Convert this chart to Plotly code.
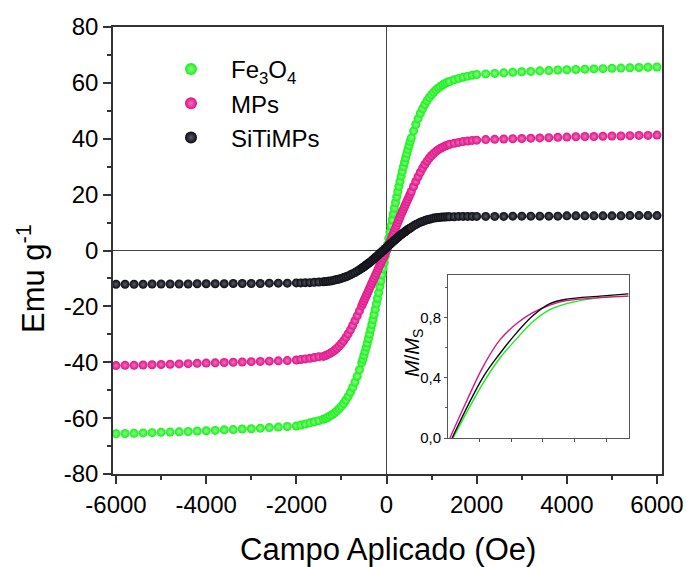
import plotly.graph_objects as go

# ---- field sweep (Oe) ----
FIELD_OUTER_NEG = list(range(-6000, -2199, 200))
FIELD_CORE_NEG = (list(range(-2000, -1499, 100)) + list(range(-1400, -549, 50))
                  + list(range(-525, 0, 25)))
FIELD_ZERO = [0]
FIELD_CORE_POS = (list(range(25, 526, 25)) + list(range(550, 1401, 50))
                  + list(range(1500, 2001, 100)))
FIELD_OUTER_POS = list(range(2200, 6001, 200))

# ---- magnetisation (emu/g) ----
FE3O4_OUTER_NEG = [-65.6, -65.5, -65.4, -65.3, -65.2, -65.1, -65.0, -64.9, -64.8, -64.6,
                   -64.5, -64.4, -64.2, -64.1, -63.9, -63.8, -63.6, -63.4, -63.2, -63.0]
FE3O4_CORE_NEG = [-62.8, -62.5, -62.1, -61.7, -61.3, -60.9,
                  -60.4, -60.1, -59.7, -59.2, -58.7, -58.1, -57.4, -56.6, -55.7, -54.7,
                  -53.5, -52.2, -50.7, -49.0, -47.1, -45.0, -42.7, -40.2,
                  -38.9, -37.5, -36.1, -34.6, -33.1, -31.5, -29.9, -28.2, -26.5, -24.7,
                  -22.9, -21.0, -19.1, -17.1, -15.1, -13.0, -10.9, -8.7, -6.5, -4.3, -2.1]
FE3O4_ZERO = [0.0]
FE3O4_CORE_POS = [2.2, 4.4, 6.6, 8.8, 11.0, 13.1, 15.2, 17.2, 19.2, 21.1, 23.0, 24.8,
                  26.6, 28.3, 30.0, 31.6, 33.2, 34.7, 36.2, 37.6, 39.0,
                  40.3, 42.8, 45.1, 47.2, 49.1, 50.8, 52.3, 53.6, 54.8, 55.8, 56.7,
                  57.5, 58.2, 58.8, 59.3, 59.8, 60.2, 60.5,
                  61.1, 61.6, 62.0, 62.4, 62.7, 63.0]
FE3O4_OUTER_POS = [63.2, 63.4, 63.6, 63.8, 64.0, 64.1, 64.3, 64.4, 64.6, 64.7,
                   64.8, 64.9, 65.0, 65.1, 65.2, 65.3, 65.4, 65.5, 65.6, 65.7]

MPS_OUTER_NEG = [-41.2, -41.1, -41.1, -41.0, -40.9, -40.8, -40.7, -40.6, -40.5, -40.4,
                 -40.3, -40.2, -40.1, -40.0, -39.9, -39.8, -39.7, -39.6, -39.5, -39.4]
MPS_CORE_NEG = [-39.2, -39.0, -38.8, -38.6, -38.3, -38.0,
                -37.9, -37.6, -37.2, -36.8, -36.3, -35.7, -35.0, -34.2, -33.3, -32.3,
                -31.1, -29.8, -28.4, -26.8, -25.1, -23.4, -21.6, -19.8,
                -18.9, -18.0, -17.1, -16.2, -15.3, -14.4, -13.5, -12.6, -11.7, -10.8,
                -9.9, -9.0, -8.1, -7.2, -6.3, -5.4, -4.5, -3.6, -2.7, -1.8, -0.9]
MPS_ZERO = [0.1]
MPS_CORE_POS = [1.0, 2.0, 3.0, 4.0, 5.0, 6.0, 7.0, 8.0, 9.0, 10.0, 11.0, 12.0,
                13.0, 13.9, 14.8, 15.7, 16.6, 17.5, 18.4, 19.3, 20.2,
                21.1, 22.9, 24.7, 26.4, 28.0, 29.5, 30.8, 32.0, 33.1, 34.0, 34.8,
                35.5, 36.1, 36.6, 37.0, 37.4, 37.7, 38.0,
                38.4, 38.7, 39.0, 39.2, 39.4, 39.5]
MPS_OUTER_POS = [39.7, 39.8, 39.9, 40.0, 40.1, 40.2, 40.3, 40.4, 40.5, 40.6,
                 40.7, 40.8, 40.8, 40.9, 41.0, 41.0, 41.1, 41.2, 41.2, 41.3]

SITIMPS_OUTER_NEG = [-12.1, -12.1, -12.1, -12.1, -12.0, -12.0, -12.0, -12.0, -12.0, -11.9,
                     -11.9, -11.9, -11.9, -11.8, -11.8, -11.8, -11.8, -11.7, -11.7, -11.7]
SITIMPS_CORE_NEG = [-11.6, -11.6, -11.5, -11.5, -11.4, -11.3,
                    -11.2, -11.1, -11.0, -10.9, -10.8, -10.6, -10.4, -10.2, -10.0, -9.7,
                    -9.4, -9.1, -8.7, -8.3, -7.9, -7.4, -6.9, -6.4,
                    -6.1, -5.8, -5.5, -5.2, -4.9, -4.6, -4.3, -4.0, -3.6, -3.3,
                    -2.9, -2.6, -2.2, -1.9, -1.5, -1.1, -0.8, -0.4, -0.1, 0.3, 0.7]
SITIMPS_ZERO = [1.0]
SITIMPS_CORE_POS = [1.4, 1.8, 2.2, 2.5, 2.9, 3.3, 3.6, 4.0, 4.3, 4.7, 5.0, 5.4,
                    5.7, 6.0, 6.3, 6.6, 6.9, 7.2, 7.5, 7.8, 8.0,
                    8.3, 8.8, 9.3, 9.7, 10.1, 10.4, 10.7, 11.0, 11.2, 11.4, 11.6,
                    11.7, 11.8, 11.9, 12.0, 12.0, 12.1, 12.1,
                    12.1, 12.2, 12.2, 12.2, 12.2, 12.2]
SITIMPS_OUTER_POS = [12.2, 12.2, 12.2, 12.3, 12.3, 12.3, 12.3, 12.3, 12.3, 12.4,
                     12.4, 12.4, 12.4, 12.4, 12.4, 12.4, 12.5, 12.5, 12.5, 12.5]

# ---- inset: reduced magnetisation M/Ms ----
INSET_FE3O4_X = [0.16, 1.1, 1.64, 2.18, 2.68, 3.22, 3.75, 4.8, 5.7]
INSET_FE3O4_Y = [0.0, 0.36, 0.53, 0.66, 0.77, 0.85, 0.89, 0.93, 0.94]
INSET_MPS_X = [0.06, 0.6, 1.1, 1.64, 2.18, 2.68, 3.22, 3.75, 4.8, 5.7]
INSET_MPS_Y = [0.0, 0.25, 0.47, 0.65, 0.76, 0.83, 0.88, 0.91, 0.93, 0.94]
INSET_SITIMPS_X = [0.13, 1.1, 1.64, 2.18, 2.68, 3.22, 3.75, 4.8, 5.7]
INSET_SITIMPS_Y = [0.0, 0.40, 0.56, 0.70, 0.81, 0.89, 0.92, 0.94, 0.955]

X_TICKS = [-6000, -4000, -2000, 0, 2000, 4000, 6000]
X_LABELS = ["-6000", "-4000", "-2000", "0", "2000", "4000", "6000"]
Y_TICKS = [-80, -60, -40, -20, 0, 20, 40, 60, 80]
Y_LABELS = ["-80", "-60", "-40", "-20", "0", "20", "40", "60", "80"]
INSET_Y_TICKS = [0.0, 0.4, 0.8]
INSET_Y_LABELS = ["0,0", "0,4", "0,8"]

FIELD = FIELD_OUTER_NEG + FIELD_CORE_NEG + FIELD_ZERO + FIELD_CORE_POS + FIELD_OUTER_POS

series = [
    ("Fe<sub>3</sub>O<sub>4</sub>", "#16ee16", "#8cff8c",
     FE3O4_OUTER_NEG + FE3O4_CORE_NEG + FE3O4_ZERO + FE3O4_CORE_POS + FE3O4_OUTER_POS,
     INSET_FE3O4_X, INSET_FE3O4_Y),
    ("MPs", "#e0128a", "#f070b8",
     MPS_OUTER_NEG + MPS_CORE_NEG + MPS_ZERO + MPS_CORE_POS + MPS_OUTER_POS,
     INSET_MPS_X, INSET_MPS_Y),
    ("SiTiMPs", "#0a0a10", "#5a5a6a",
     SITIMPS_OUTER_NEG + SITIMPS_CORE_NEG + SITIMPS_ZERO + SITIMPS_CORE_POS + SITIMPS_OUTER_POS,
     INSET_SITIMPS_X, INSET_SITIMPS_Y),
]

FONT = "Liberation Sans, Arial, sans-serif"
W, H = 687, 567
L, R, T, B = 113, 25, 27, 93
PW, PH = W - L - R, H - T - B


def px_x(p):
    return (p - L) / PW


def px_y(p):
    return (H - B - p) / PH


fig = go.Figure()
for name, col, shine, mag, ix, iy in series:
    fig.add_trace(go.Scatter(
        x=FIELD, y=mag, mode="markers", name=name,
        marker=dict(size=9, color=col, line=dict(width=0),
                    gradient=dict(type="radial", color=shine)),
    ))
for name, col, shine, mag, ix, iy in series:
    fig.add_trace(go.Scatter(
        x=ix, y=iy, mode="lines", showlegend=False,
        line=dict(color=col, width=1.4, shape="spline"),
        xaxis="x2", yaxis="y2",
    ))

axis_line = "#333333"
fig.update_layout(
    width=W, height=H,
    margin=dict(l=L, r=R, t=T, b=B, autoexpand=False),
    paper_bgcolor="white", plot_bgcolor="white",
    font=dict(family=FONT, color="black"),
    showlegend=True,
    legend=dict(x=px_x(151), y=px_y(47), xanchor="left", yanchor="top",
                bgcolor="rgba(0,0,0,0)", itemwidth=70,
                font=dict(size=24, family=FONT), itemsizing="constant"),
    xaxis=dict(range=[-6067, 6111], tickvals=X_TICKS, ticktext=X_LABELS,
               ticks="outside", ticklen=8, automargin=False,
               tickwidth=1.5, tickcolor=axis_line, showline=True, linewidth=1.6,
               linecolor=axis_line, mirror=True, showgrid=False,
               zeroline=True, zerolinecolor="#444444", zerolinewidth=1,
               tickfont=dict(size=24),
               minor=dict(dtick=1000, ticks="outside", ticklen=4, tickwidth=1.5,
                          tickcolor=axis_line, showgrid=False)),
    yaxis=dict(range=[-80, 80], tickvals=Y_TICKS, ticktext=Y_LABELS,
               ticks="outside", ticklen=8, automargin=False,
               tickwidth=1.5, tickcolor=axis_line, showline=True, linewidth=1.6,
               linecolor=axis_line, mirror=True, showgrid=False,
               zeroline=True, zerolinecolor="#444444", zerolinewidth=1,
               tickfont=dict(size=24),
               minor=dict(dtick=10, ticks="outside", ticklen=4, tickwidth=1.5,
                          tickcolor=axis_line, showgrid=False)),
    xaxis2=dict(domain=[px_x(448), px_x(629)], automargin=False,
                anchor="y2", range=[0, 5.72], tickvals=[1, 2, 3, 4, 5],
                ticks="outside", ticklen=3, tickcolor="#555555",
                showticklabels=False, showline=True, linecolor="#555555",
                linewidth=1, mirror=True, showgrid=False, zeroline=False),
    yaxis2=dict(domain=[px_y(438), px_y(275)], automargin=False,
                anchor="x2", range=[0, 1.08], tickvals=INSET_Y_TICKS,
                ticktext=INSET_Y_LABELS, ticks="outside", ticklen=3,
                tickcolor="#555555", tickfont=dict(size=15),
                showline=True, linecolor="#555555", linewidth=1, mirror=True,
                showgrid=False, zeroline=False,
                minor=dict(tickvals=[0.2, 0.6, 1.0], ticks="outside", ticklen=2,
                           tickcolor="#555555")),
    annotations=[
        dict(text="Campo Aplicado (Oe)", xref="paper", yref="paper",
             x=px_x(388), y=px_y(549), xanchor="center", yanchor="middle",
             showarrow=False, font=dict(size=31)),
        dict(text="Emu g<sup>-1</sup>", xref="paper", yref="paper",
             x=px_x(31), y=px_y(279), xanchor="center", yanchor="middle",
             textangle=-90, showarrow=False, font=dict(size=31)),
        dict(text="<i>M</i>/<i>M</i><sub>S</sub>", xref="paper", yref="paper",
             x=px_x(413), y=px_y(353), xanchor="center", yanchor="middle",
             textangle=-90, showarrow=False, font=dict(size=20)),
    ],
)

fig.write_html("out.html")
